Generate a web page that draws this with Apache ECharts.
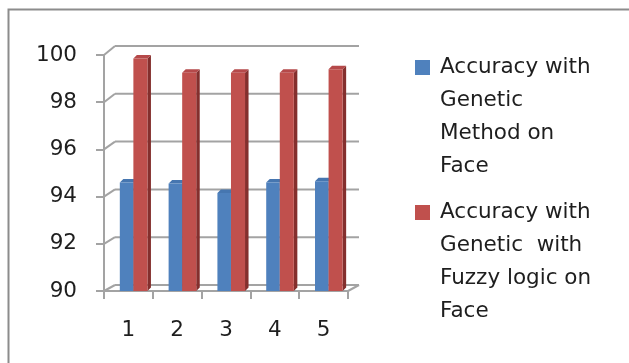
<!DOCTYPE html>
<html>
<head>
<meta charset="utf-8">
<script src="https://cdn.jsdelivr.net/npm/echarts@6/dist/echarts.min.js"></script>
<style>
  html, body { margin: 0; padding: 0; background: #ffffff; }
  #chart { width: 629px; height: 363px; }
</style>
</head>
<body>
<div id="chart"></div>
<script>
// Accuracy per test run, two methods
const categories = ['1', '2', '3', '4', '5'];
const geneticAccuracy = [94.6, 94.55, 94.15, 94.6, 94.65];
const fuzzyAccuracy = [99.85, 99.25, 99.25, 99.25, 99.4];
const valueTicks = [90, 92, 94, 96, 98, 100];
const seriesNames = [
  'Accuracy with\nGenetic\nMethod on\nFace',
  'Accuracy with\nGenetic  with\nFuzzy logic on\nFace'
];

const AXIS_MIN = 90, AXIS_MAX = 100, AXIS_STEP = 2;
const FONT = 'DejaVu Sans';
const TEXT = '#1e1e1e';
const GRID_GRAY = '#a3a3a3';

// pseudo-3D look: back wall offset and column depth
const WALL_DX = 11;
const wallDy = v => -6 - 0.3 * (v - AXIS_MIN);
const COL_DEPTH = 0.072;           // fraction of band width

const chart = echarts.init(document.getElementById('chart'), null, { renderer: 'canvas' });

// back wall grid lines + the diagonal joints to the front axis
function wallRenderer(params, api) {
  const cs = params.coordSys;
  const v = api.value(1);
  const y = api.coord([0, v])[1];
  const dy = wallDy(v);
  const style = { stroke: GRID_GRAY, lineWidth: 2, fill: null };
  const children = [
    { type: 'line', shape: { x1: cs.x, y1: y, x2: cs.x + WALL_DX, y2: y + dy }, style },
    { type: 'line', shape: { x1: cs.x + WALL_DX, y1: y + dy, x2: cs.x + cs.width + WALL_DX, y2: y + dy }, style }
  ];
  if (v === AXIS_MIN) {
    children.push({ type: 'line', shape: { x1: cs.x + cs.width, y1: y, x2: cs.x + cs.width + WALL_DX, y2: y + dy }, style });
  }
  return { type: 'group', children };
}

// a column with front, top and right side faces
function columnRenderer(leftFrac, rightFrac, face, top, side) {
  return function (params, api) {
    const i = api.value(0);
    const v = api.value(1);
    const base = api.coord([i, AXIS_MIN]);
    const peak = api.coord([i, v]);
    const bw = api.size([1, 0])[0];
    const x0 = base[0] + leftFrac * bw;
    const x1 = base[0] + rightFrac * bw;
    const y0 = peak[1], y1 = base[1];
    const d = COL_DEPTH * bw;
    return {
      type: 'group',
      children: [
        { type: 'polygon', shape: { points: [[x1, y0], [x1 + d, y0 - d], [x1 + d, y1 - d], [x1, y1]] }, style: { fill: side } },
        { type: 'polygon', shape: { points: [[x0, y0], [x0 + d, y0 - d], [x1 + d, y0 - d], [x1, y0]] }, style: { fill: top } },
        { type: 'rect', shape: { x: x0, y: y0, width: x1 - x0, height: y1 - y0 }, style: { fill: face } }
      ]
    };
  };
}

const option = {
  animation: false,
  color: ['#4f81bd', '#c0504d'],
  graphic: [{
    type: 'rect',
    shape: { x: 8.5, y: 9.5, width: 700, height: 420 },
    style: { fill: null, stroke: '#8c8c8c', lineWidth: 2 },
    silent: true
  }],
  legend: {
    orient: 'vertical',
    left: 415,
    top: -48,
    padding: 0,
    itemWidth: 15,
    itemHeight: 15,
    itemGap: -86,
    icon: 'rect',
    data: seriesNames,
    // three leading empty lines keep the marker level with the first text line
    formatter: name => '\n\n\n' + name,
    textStyle: {
      fontFamily: FONT,
      fontSize: 21.5,
      color: TEXT,
      lineHeight: 33,
      padding: [0, 0, 0, 5]
    }
  },
  grid: { left: 104, top: 55, width: 244, height: 236, containLabel: false },
  xAxis: {
    type: 'category',
    data: categories,
    boundaryGap: true,
    axisLine: { show: true, lineStyle: { color: GRID_GRAY, width: 2 } },
    axisTick: { show: true, length: 8, lineStyle: { color: GRID_GRAY, width: 2 } },
    axisLabel: { fontFamily: FONT, fontSize: 21.5, color: TEXT, margin: 28 },
    splitLine: { show: false }
  },
  yAxis: {
    type: 'value',
    min: AXIS_MIN,
    max: AXIS_MAX,
    interval: AXIS_STEP,
    axisLine: { show: true, lineStyle: { color: GRID_GRAY, width: 2 } },
    axisTick: { show: true, length: 8, lineStyle: { color: GRID_GRAY, width: 2 } },
    axisLabel: { fontFamily: FONT, fontSize: 21.5, color: TEXT, margin: 27, padding: [12, 0, 0, 0] },
    splitLine: { show: false }
  },
  series: [
    {
      type: 'custom',
      name: 'wall',
      silent: true,
      clip: false,
      z: 1,
      renderItem: wallRenderer,
      data: valueTicks.map(v => [0, v])
    },
    {
      type: 'custom',
      name: seriesNames[0],
      clip: false,
      z: 2,
      itemStyle: { color: '#4f81bd' },
      renderItem: columnRenderer(-0.176, 0.102, '#4f81bd', '#4676b0', '#345a8a'),
      data: categories.map((c, i) => [i, geneticAccuracy[i]])
    },
    {
      type: 'custom',
      name: seriesNames[1],
      clip: false,
      z: 3,
      itemStyle: { color: '#c0504d' },
      renderItem: columnRenderer(0.102, 0.39, '#c0504d', '#b5494a', '#842f2d'),
      data: categories.map((c, i) => [i, fuzzyAccuracy[i]])
    }
  ]
};

chart.setOption(option);
</script>
</body>
</html>
